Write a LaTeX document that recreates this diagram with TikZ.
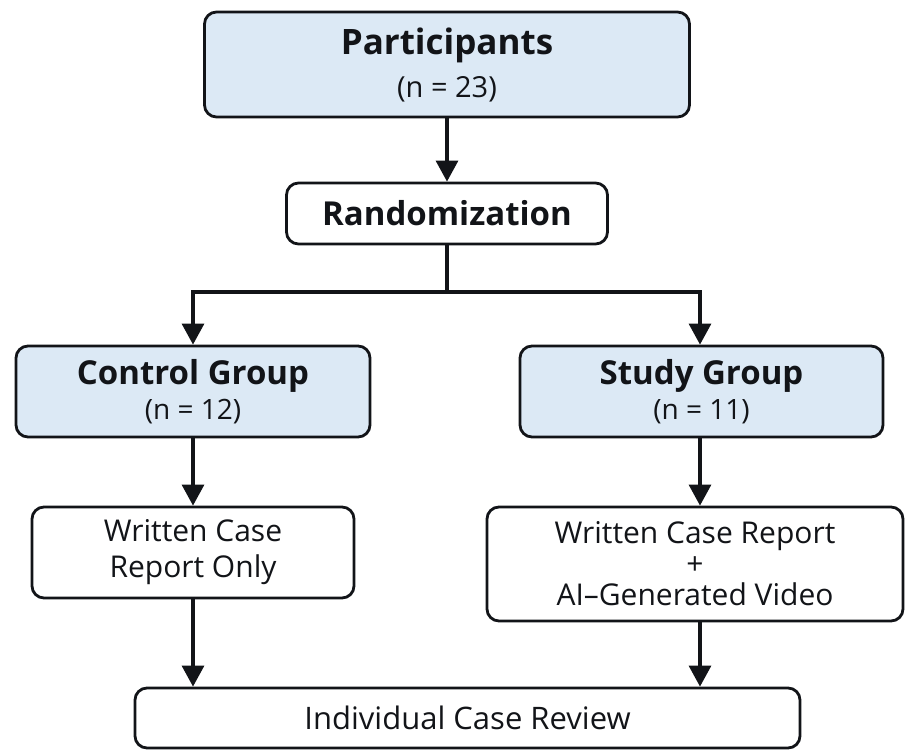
\documentclass[tikz,border=0pt]{standalone}
\usepackage{fontspec}
\setmainfont{Open Sans}
\usetikzlibrary{arrows.meta}
\definecolor{boxblue}{HTML}{DCE9F5}
\definecolor{ink}{HTML}{121418}
\tikzset{
  box/.style={draw=ink,line width=2.8pt,rounded corners=12pt,align=center,
    text=ink,inner sep=0pt},
  grp/.style={box,fill=boxblue},
  flow/.style={draw=ink,line width=3.2pt,-{Triangle[length=21pt,width=22pt]}},
  wire/.style={draw=ink,line width=3.2pt},
}
\begin{document}
\begin{tikzpicture}[x=1pt,y=-1pt]
    \useasboundingbox (0,0) rectangle (918,754);
    % top
    \node[grp,minimum width=485pt,minimum height=105pt,
      font=\fontsize{29}{43}\selectfont] (part) at (447,64.5)
      {{\fontsize{35}{43}\selectfont\bfseries Participants}\\(n = 23)};
    \node[box,minimum width=321pt,minimum height=61pt,
      font=\fontsize{33}{40}\selectfont\bfseries] (rand) at (447,213.5)
      {Randomization};
    % groups
    \node[grp,minimum width=354pt,minimum height=91pt,
      font=\fontsize{28}{35}\selectfont] (ctrl) at (193,391.5)
      {{\fontsize{33}{35}\selectfont\bfseries Control Group}\\(n = 12)};
    \node[grp,minimum width=363pt,minimum height=91pt,
      font=\fontsize{28}{35}\selectfont] (study) at (701.5,391.5)
      {{\fontsize{33}{35}\selectfont\bfseries Study Group}\\(n = 11)};
    % materials
    \node[box,minimum width=322pt,minimum height=91pt,
      font=\fontsize{30}{36}\selectfont] (wctrl) at (193,552.5)
      {Written Case\\Report Only};
    \node[box,minimum width=416pt,minimum height=114pt,
      font=\fontsize{30}{31}\selectfont] (wstudy) at (695,564)
      {Written Case Report\\+\\AI--Generated Video};
    % end
    \node[box,minimum width=665pt,minimum height=60pt,
      font=\fontsize{31}{36}\selectfont] (review) at (467.5,718)
      {Individual Case Review};
    \coordinate (split) at (447,292);
    \coordinate (left) at (193,292);
    \coordinate (right) at (700,292);
    % arrows
    \draw[flow] (part) -- (rand);
    \draw[wire] (rand.south) -- (split);
    \draw[wire,line cap=rect] (left) -- (right);
    \draw[flow] (left) -- (left |- ctrl.north);
    \draw[flow] (right) -- (right |- study.north);
    \draw[flow] (ctrl) -- (wctrl);
    \draw[flow] (right |- study.south) -- (right |- wstudy.north);
    \draw[flow] (wctrl) -- (wctrl |- review.north);
    \draw[flow] (right |- wstudy.south) -- (right |- review.north);
\end{tikzpicture}
\end{document}
